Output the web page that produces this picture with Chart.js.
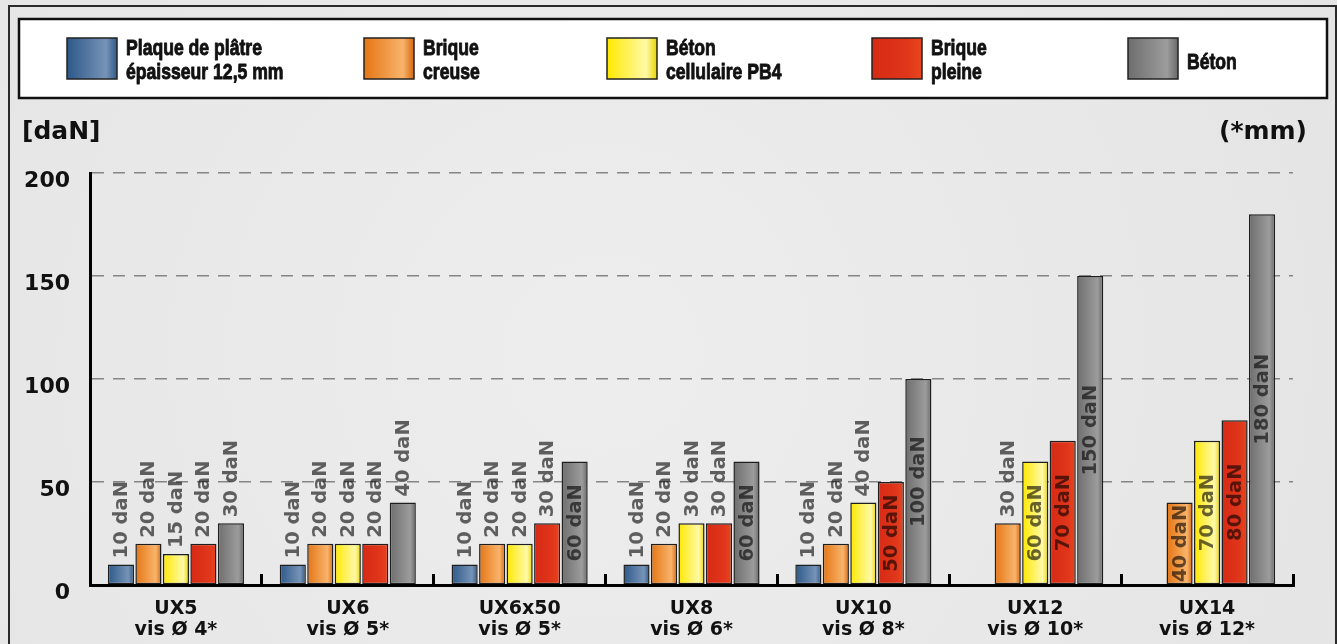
<!DOCTYPE html>
<html><head><meta charset="utf-8">
<script src="https://cdn.jsdelivr.net/npm/chart.js@4.4.0/dist/chart.umd.min.js"></script>
<style>html,body{margin:0;padding:0;background:#e8e8e8;overflow:hidden}canvas{display:block}</style>
</head><body><canvas id="c" width="1337" height="644"></canvas>
<script>
// ---- data ----
const categories = [['UX5','vis Ø 4*'],['UX6','vis Ø 5*'],['UX6x50','vis Ø 5*'],['UX8','vis Ø 6*'],['UX10','vis Ø 8*'],['UX12','vis Ø 10*'],['UX14','vis Ø 12*']];
const seriesNames = [['Plaque de plâtre','épaisseur 12,5 mm'],['Brique','creuse'],['Béton','cellulaire PB4'],['Brique','pleine'],['Béton']];
const plaqueValues          = [10,10,10,10,10,null,null];
const briqueCreuseValues    = [20,20,20,20,20,30,40];
const betonCellulaireValues = [15,20,20,30,40,60,70];
const briquePleineValues    = [20,20,30,30,50,70,80];
const betonValues           = [30,40,60,60,100,150,180];
const yTicks = [0,50,100,150,200];
const unitLeft = '[daN]';
const unitRight = '(*mm)';
const labelUnit = ' daN';
// value from which the value label sits inside the bar (per series)
const insideFrom = [Infinity,40,60,50,60];

// ---- styles ----
const gradStops = [
  [[0,'#2c5989'],[0.78,'#7793b7'],[1,'#2f5a88']],
  [[0,'#e57514'],[0.78,'#f8b46b'],[1,'#d5680f']],
  [[0,'#ffe800'],[0.78,'#fff9a8'],[1,'#e9d600']],
  [[0,'#d62a15'],[0.7,'#e0361a'],[1,'#e8461f']],
  [[0,'#6e6e6e'],[0.78,'#9c9c9c'],[1,'#686868']]
];
const legendX = [67,364,607,872,1128];

function fillGrad(ctx, x, w, stops){
  const g = ctx.createLinearGradient(x,0,x+w,0);
  stops.forEach(s=>g.addColorStop(s[0],s[1]));
  return g;
}
function narrowText(ctx, text, x, y){
  ctx.save(); ctx.translate(x,y); ctx.scale(0.8,1);
  ctx.lineWidth = 0.9; ctx.strokeStyle = ctx.fillStyle; ctx.lineJoin = 'round';
  ctx.strokeText(text,0,0); ctx.fillText(text,0,0); ctx.restore();
}

const framePlugin = {
  id:'frame',
  beforeDraw(chart){
    const ctx = chart.ctx, W = chart.width, H = chart.height;
    ctx.save();
    const bg = ctx.createRadialGradient(W*0.45,H*0.55,50,W*0.45,H*0.55,W*0.7);
    bg.addColorStop(0,'#ededed'); bg.addColorStop(1,'#e3e3e3');
    ctx.fillStyle = bg; ctx.fillRect(0,0,W,H);
    ctx.strokeStyle = '#2a2a2a'; ctx.lineWidth = 2;
    ctx.strokeRect(9,6,1327,700);
    ctx.fillStyle = '#fff'; ctx.fillRect(19,19,1308,79);
    ctx.strokeStyle = '#111'; ctx.lineWidth = 2.5; ctx.strokeRect(19,19,1308,79);
    // legend
    seriesNames.forEach((lines,i)=>{
      const x = legendX[i];
      ctx.fillStyle = fillGrad(ctx,x,50,gradStops[i]);
      ctx.fillRect(x,38,50,41);
      ctx.strokeStyle = '#222'; ctx.lineWidth = 1.5; ctx.strokeRect(x,38,50,41);
      ctx.fillStyle = '#111'; ctx.font = 'bold 22px "Liberation Sans",Arial,sans-serif';
      ctx.textAlign = 'left'; ctx.textBaseline = 'alphabetic';
      if (lines.length === 2){ narrowText(ctx,lines[0],x+59,55); narrowText(ctx,lines[1],x+59,79); }
      else narrowText(ctx,lines[0],x+59,69);
    });
    // unit captions
    ctx.fillStyle = '#111'; ctx.font = 'bold 25px "DejaVu Sans",sans-serif'; ctx.textBaseline = 'middle';
    ctx.textAlign = 'left'; ctx.fillText(unitLeft,22,132);
    ctx.textAlign = 'right'; ctx.fillText(unitRight,1307,132);
    ctx.restore();
  },
  beforeDatasetDraw(chart,args){
    const ctx = chart.ctx;
    args.meta.data.forEach(el=>{
      if (!isFinite(el.x) || !isFinite(el.width)) return;
      const x0 = el.x - el.width/2;
      el.options = Object.assign({}, el.options, {backgroundColor: fillGrad(ctx,x0,el.width,gradStops[args.index])});
    });
  },
  afterDatasetsDraw(chart){
    const ctx = chart.ctx;
    chart.data.datasets.forEach((ds,di)=>{
      const meta = chart.getDatasetMeta(di);
      meta.data.forEach((el,i)=>{
        const v = ds.data[i]; if (v==null) return;
        ctx.save();
        ctx.font = 'bold 19.5px "DejaVu Sans",sans-serif';
        ctx.fillStyle = 'rgba(0,0,0,0.6)';
        ctx.textBaseline = 'middle';
        if (v >= insideFrom[di]){ ctx.translate(el.x+1,(el.y+el.base)/2); ctx.rotate(-Math.PI/2); ctx.textAlign='center'; }
        else { ctx.translate(el.x+1, el.y-6); ctx.rotate(-Math.PI/2); ctx.textAlign='left'; }
        ctx.fillText(v+labelUnit,0,0);
        ctx.restore();
      });
    });
  }
};

const seriesValues = [plaqueValues,briqueCreuseValues,betonCellulaireValues,briquePleineValues,betonValues];
new Chart(document.getElementById('c'),{
  type:'bar',
  data:{
    labels: categories,
    datasets: seriesValues.map((vals,i)=>({
      label: seriesNames[i].join(' '),
      data: vals,
      backgroundColor: gradStops[i][1][1],
      borderColor:'#1e1e1e', borderWidth:1.5, borderSkipped:false,
      categoryPercentage:0.8, barPercentage:0.95
    }))
  },
  options:{
    responsive:false, animation:false, devicePixelRatio:1,
    layout:{padding:{left:0,top:173,right:44,bottom:0}},
    plugins:{legend:{display:false},tooltip:{enabled:false}},
    scales:{
      x:{
        offset:true,
        grid:{offset:true,drawOnChartArea:false,drawTicks:true,tickLength:-11,color:'#000',lineWidth:3},
        border:{color:'#000',width:3,z:1},
        ticks:{font:{family:'"DejaVu Sans",sans-serif',weight:'bold',size:19,lineHeight:1.12},color:'#111',padding:24,maxRotation:0,autoSkip:false},
        afterFit:s=>{s.height=59;}
      },
      y:{
        min:0,max:200,
        afterBuildTicks:s=>{s.ticks=yTicks.map(v=>({value:v}));},
        grid:{color:c=>(c.tick && c.tick.value===0)?'rgba(0,0,0,0)':'#858585',lineWidth:1.5,drawTicks:false},
        border:{color:'#000',width:3,dash:[12,9],z:1},
        ticks:{font:{family:'"DejaVu Sans",sans-serif',weight:'bold',size:22},color:'#111',padding:20,labelOffset:8},
        afterFit:s=>{s.width=90;}
      }
    }
  },
  plugins:[framePlugin]
});
</script></body></html>
